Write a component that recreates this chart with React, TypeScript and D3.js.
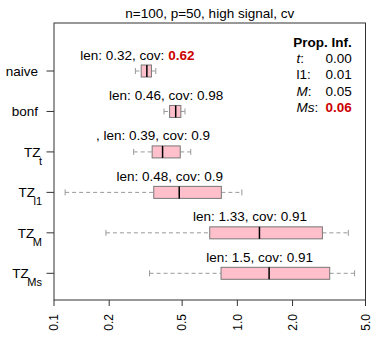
import * as d3 from "d3";

// methods, top to bottom
const methods = ["naive", "bonf", "TZ", "TZ", "TZ", "TZ"];
const subs = ["", "", "t", "l1", "M", "Ms"];

// box stats (interval length)
const whiskLo = [0.278, 0.398, 0.272, 0.115, 0.192, 0.332];
const q1 = [0.299, 0.427, 0.343, 0.35, 0.707, 0.815];
const medians = [0.321, 0.461, 0.391, 0.482, 1.32, 1.49];
const q3 = [0.34, 0.492, 0.488, 0.818, 2.91, 3.19];
const whiskHi = [0.359, 0.518, 0.557, 1.058, 4.03, 4.36];

const lenLabels = ["0.32", "0.46", "0.39", "0.48", "1.33", "1.5"];
const covLabels = ["0.62", "0.98", "0.9", "0.9", "0.91", "0.91"];
const covBad = [true, false, false, false, false, false];
const prefixes = ["", "", ", ", "", "", ""];

const xTicks = [0.1, 0.2, 0.5, 1.0, 2.0, 5.0];

const infNames = ["t", "l1", "M", "Ms"];
const infItalic = [true, false, true, true];
const infValues = ["0.00", "0.01", "0.05", "0.06"];
const infBad = [false, false, false, true];

const RED = "#cc0000";
const FONT = "'Liberation Sans', Arial, Helvetica, sans-serif";

export default function App() {
    const left = 54, right = 365.5, top = 23, bottom = 300;
    const x = d3.scaleLog().domain([0.1, 5]).range([left, right]);
    const y = d3.scaleLinear().domain([1, 6]).range([71, 273.3]);
    const boxH = 12;

    return (
        <svg width={388} height={347} style={{ position: "absolute", left: 0, top: 0 }} fontFamily={FONT}>
            <rect width={388} height={347} fill="white" />
            <text x={(left + right) / 2} y={17.7} textAnchor="middle" fontSize={13.5} fill="#000">
                n=100, p=50, high signal, cv
            </text>

            {/* boxes */}
            {methods.map((m, i) => {
                const cy = y(i + 1);
                return (
                    <g key={i}>
                        <line x1={x(whiskLo[i])} x2={x(q1[i])} y1={cy} y2={cy} stroke="#999" strokeDasharray="4,3" />
                        <line x1={x(q3[i])} x2={x(whiskHi[i])} y1={cy} y2={cy} stroke="#999" strokeDasharray="4,3" />
                        <line x1={x(whiskLo[i])} x2={x(whiskLo[i])} y1={cy - 3} y2={cy + 3} stroke="#999" />
                        <line x1={x(whiskHi[i])} x2={x(whiskHi[i])} y1={cy - 3} y2={cy + 3} stroke="#999" />
                        <rect x={x(q1[i])} y={cy - boxH / 2} width={x(q3[i]) - x(q1[i])} height={boxH}
                            fill="#ffc0cb" stroke="#777" />
                        <line x1={x(medians[i])} x2={x(medians[i])} y1={cy - boxH / 2} y2={cy + boxH / 2}
                            stroke="#000" strokeWidth={1.5} />
                        <text x={x(medians[i]) - 9.5} y={cy - 11.5} textAnchor="middle" fontSize={13.5} fill="#000">
                            {prefixes[i]}len: {lenLabels[i]}, cov:{" "}
                            <tspan fill={covBad[i] ? RED : "#000"} fontWeight={covBad[i] ? "bold" : "normal"}>
                                {covLabels[i]}
                            </tspan>
                        </text>
                    </g>
                );
            })}

            {/* plot frame */}
            <rect x={left} y={top} width={right - left} height={bottom - top} fill="none" stroke="#333" />

            {/* y axis */}
            {methods.map((m, i) => {
                const cy = y(i + 1);
                return (
                    <g key={"y" + i}>
                        <line x1={left - 7.5} x2={left} y1={cy} y2={cy} stroke="#333" />
                        <text x={subs[i] ? 42 : 38} y={cy + 5} textAnchor="end" fontSize={13.5} fill="#000">
                            {m}
                            {subs[i] && (
                                <tspan dx={-1.5} dy={8} fontSize={11}>{subs[i]}</tspan>
                            )}
                        </text>
                    </g>
                );
            })}

            {/* x axis */}
            {xTicks.map((t) => (
                <g key={t}>
                    <line x1={x(t)} x2={x(t)} y1={bottom} y2={bottom + 6} stroke="#333" />
                    <text transform={`translate(${x(t) + 4.3},${bottom + 14}) rotate(-90)`} textAnchor="end"
                        fontSize={12} fill="#000">
                        {t.toFixed(1)}
                    </text>
                </g>
            ))}

            {/* proportion infinite legend */}
            <text x={351.7} y={46.7} textAnchor="end" fontSize={13.5} fontWeight="bold" fill="#000">
                Prop. Inf.
            </text>
            {infNames.map((n, i) => (
                <g key={n}>
                    <text x={296.5} y={63.3 + i * 16.1} fontSize={13.5} fill="#000">
                        <tspan fontStyle={infItalic[i] ? "italic" : "normal"}>{n}</tspan>:
                    </text>
                    <text x={351.7} y={63.3 + i * 16.1} textAnchor="end" fontSize={13.5}
                        fill={infBad[i] ? RED : "#000"} fontWeight={infBad[i] ? "bold" : "normal"}>
                        {infValues[i]}
                    </text>
                </g>
            ))}
        </svg>
    );
}
